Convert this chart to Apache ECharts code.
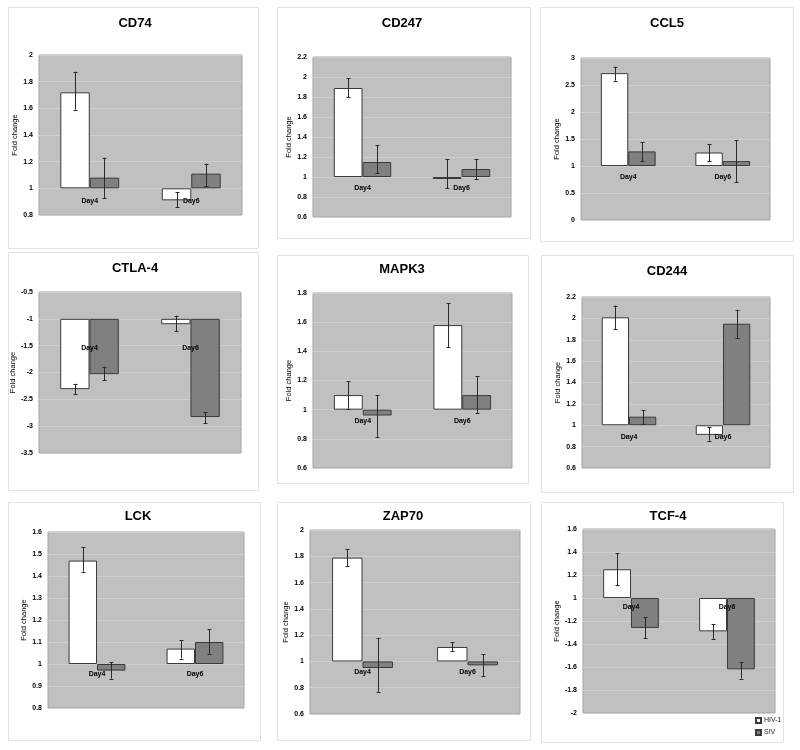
<!DOCTYPE html>
<html><head><meta charset="utf-8">
<script src="https://cdn.jsdelivr.net/npm/echarts@6/dist/echarts.min.js"></script>
<style>html,body{margin:0;padding:0;background:#fff}#c{width:800px;height:750px}</style>
</head><body><div id="c"></div>
<script>
// ---- data ----
const genes = ['CD74', 'CD247', 'CCL5', 'CTLA-4', 'MAPK3', 'CD244', 'LCK', 'ZAP70', 'TCF-4'];
const days = ['Day4', 'Day6'];
const seriesNames = ['HIV-1', 'SIV'];
// fold change per gene: [Day4, Day6]
const hivMean = [[1.72, 0.91], [1.89, 0.98], [2.72, 1.25], [-2.31, -1.10], [1.10, 1.58], [2.01, 0.91], [1.47, 1.07], [1.79, 1.11], [1.25, -1.29]];
const hivLow  = [[1.59, 0.86], [1.80, 0.89], [2.58, 1.09], [-2.40, -1.235], [1.007, 1.43], [1.90, 0.855], [1.42, 1.025], [1.725, 1.08], [1.11, -1.357]];
const hivHigh = [[1.875, 0.97], [1.99, 1.18], [2.84, 1.41], [-2.21, -0.94], [1.194, 1.73], [2.12, 0.98], [1.53, 1.108], [1.854, 1.145], [1.39, -1.226]];
const sivMean = [[1.08, 1.11], [1.15, 1.08], [1.27, 1.09], [-2.03, -2.83], [0.96, 1.10], [1.08, 1.95], [0.97, 1.10], [0.95, 0.97], [-1.26, -1.62]];
const sivLow  = [[0.925, 1.02], [1.04, 0.98], [1.09, 0.70], [-2.14, -2.94], [0.815, 0.975], [1.01, 1.82], [0.934, 1.045], [0.77, 0.89], [-1.35, -1.70]];
const sivHigh = [[1.23, 1.185], [1.32, 1.18], [1.44, 1.48], [-1.89, -2.74], [1.098, 1.23], [1.14, 2.08], [1.008, 1.159], [1.18, 1.055], [-1.165, -1.56]];
// axis ranges (fold change units)
const yMin  = [0.8, 0.6, 0, -3.5, 0.6, 0.6, 0.8, 0.6, -2];
const yMax  = [2, 2.2, 3, -0.5, 1.8, 2.2, 1.6, 2, 1.6];
const yStep = [0.2, 0.2, 0.5, 0.5, 0.2, 0.2, 0.1, 0.2, 0.2];
// bar baseline; 0 means the axis skips the -1..1 gap (bars start at +1 / -1)
const baseLine = [1, 1, 1, -1, 1, 1, 1, 1, 0];

// ---- layout ----
const grids = [
  [39, 55, 203, 160], [313, 57, 198, 160], [581, 58, 189, 162],
  [39, 292, 202, 161], [313, 293, 199, 175], [582, 297, 188, 171],
  [48, 532, 196, 176], [310, 530, 210, 184], [583, 529, 192, 184]
];
const boxes = [
  [8, 7, 250, 241], [277, 7, 253, 231], [540, 7, 253, 234],
  [8, 252, 250, 238], [277, 255, 251, 228], [541, 255, 252, 237],
  [8, 502, 252, 238], [277, 502, 253, 238], [541, 502, 242, 240]
];
const titleCenter = [[135, 25], [402, 25], [667, 25], [135, 270], [402, 271], [667, 273], [138, 518], [403, 518], [668, 518]];
const labelMargin = [9, 8, 8, 26, 8, 8, 7, 7, 6];

const FONT = '"Liberation Sans", Arial, sans-serif';
const rnd = x => Math.round(x * 1e9) / 1e9;
function tf(g, v) {
  const b = baseLine[g];
  if (b === 0) return rnd(v >= 0 ? v - 1 : v + 1);
  return rnd(v - b);
}
function inv(g, t) {
  const b = baseLine[g];
  if (b === 0) return t > 1e-9 ? t + 1 : (t < -1e-9 ? t - 1 : 1);
  return t + b;
}

const option = {
  animation: false,
  backgroundColor: '#fff',
  graphic: boxes.map(b => ({
    type: 'rect', z: -10, silent: true,
    shape: { x: b[0] + 0.5, y: b[1] + 0.5, width: b[2], height: b[3] },
    style: { fill: '#fff', stroke: '#e2e2e2', lineWidth: 1 }
  })),
  title: genes.map((g, i) => ({
    text: g, left: titleCenter[i][0], top: titleCenter[i][1] - 8, padding: 0,
    textAlign: 'center',
    textStyle: { fontSize: 13, fontWeight: 'bold', fontFamily: FONT, color: '#000' }
  })),
  legend: {
    data: seriesNames, orient: 'vertical', left: 755, top: 717, padding: 0,
    itemWidth: 5, itemHeight: 5, itemGap: 5, icon: 'rect',
    textStyle: { fontSize: 7, fontFamily: FONT, color: '#222', padding: [0, 0, 0, -2] }
  },
  grid: grids.map(r => ({
    left: r[0], top: r[1], width: r[2], height: r[3], containLabel: false, outerBoundsMode: 'none',
    show: true, backgroundColor: '#c0c0c0', borderColor: '#a4a4a4', borderWidth: 1
  })),
  xAxis: genes.map((g, i) => ({
    type: 'category', gridIndex: i, data: days, position: 'bottom', z: 10,
    axisLine: { show: false, onZero: false },
    axisTick: { show: false },
    axisLabel: { fontSize: 7, fontWeight: 'bold', fontFamily: FONT, color: '#000', margin: labelMargin[i] },
    splitLine: { show: false }
  })),
  yAxis: genes.map((g, i) => ({
    type: 'value', gridIndex: i,
    min: tf(i, yMin[i]), max: tf(i, yMax[i]), interval: yStep[i],
    name: 'Fold change', nameLocation: 'middle', nameGap: 20,
    nameTextStyle: { fontSize: 7.5, fontFamily: FONT, color: '#000' },
    axisLine: { show: false }, axisTick: { show: false },
    axisLabel: {
      fontSize: 7, fontWeight: 'bold', fontFamily: FONT, color: '#000', margin: 6,
      formatter: t => String(parseFloat(inv(i, t).toFixed(2)))
    },
    splitLine: { show: true, lineStyle: { color: '#cfcfcf', width: 1 } }
  })),
  series: []
};

function errRender(side) {
  return function (params, api) {
    const c = api.value(0);
    const lo = api.coord([c, api.value(1)]);
    const hi = api.coord([c, api.value(2)]);
    const band = api.size([1, 0])[0];
    const x = Math.round(lo[0] + side * band * 0.145) + 0.5;
    const cap = 2;
    const st = { stroke: '#2a2a2a', lineWidth: 1 };
    return {
      type: 'group',
      children: [
        { type: 'line', shape: { x1: x, y1: lo[1], x2: x, y2: hi[1] }, style: st },
        { type: 'line', shape: { x1: x - cap, y1: Math.round(hi[1]) + 0.5, x2: x + cap, y2: Math.round(hi[1]) + 0.5 }, style: st },
        { type: 'line', shape: { x1: x - cap, y1: Math.round(lo[1]) + 0.5, x2: x + cap, y2: Math.round(lo[1]) + 0.5 }, style: st }
      ]
    };
  };
}

genes.forEach((g, i) => {
  const groups = [
    { name: seriesNames[0], mean: hivMean[i], lo: hivLow[i], hi: hivHigh[i], color: '#ffffff', side: -1 },
    { name: seriesNames[1], mean: sivMean[i], lo: sivLow[i], hi: sivHigh[i], color: '#808080', side: 1 }
  ];
  groups.forEach(s => {
    option.series.push({
      type: 'bar', name: s.name, xAxisIndex: i, yAxisIndex: i,
      data: s.mean.map(v => tf(i, v)),
      barWidth: '29%', barGap: '0%',
      itemStyle: { color: s.color, borderColor: '#3a3a3a', borderWidth: 1 },
      emphasis: { disabled: true }
    });
  });
  groups.forEach(s => {
    option.series.push({
      type: 'custom', name: s.name + ' error', xAxisIndex: i, yAxisIndex: i, z: 5,
      renderItem: errRender(s.side),
      encode: { x: 0, y: [1, 2] },
      data: days.map((d, k) => [k, tf(i, s.lo[k]), tf(i, s.hi[k])])
    });
  });
});

const chart = echarts.init(document.getElementById('c'), null, { renderer: 'canvas' });
chart.setOption(option);
// move each category axis onto the bar baseline (value 0 of the transformed scale)
const offsets = genes.map((g, i) => {
  const y0 = chart.convertToPixel({ yAxisIndex: i }, 0);
  return y0 - (grids[i][1] + grids[i][3]);
});
chart.setOption({ xAxis: offsets.map(o => ({ offset: o })) });
</script>
</body></html>
